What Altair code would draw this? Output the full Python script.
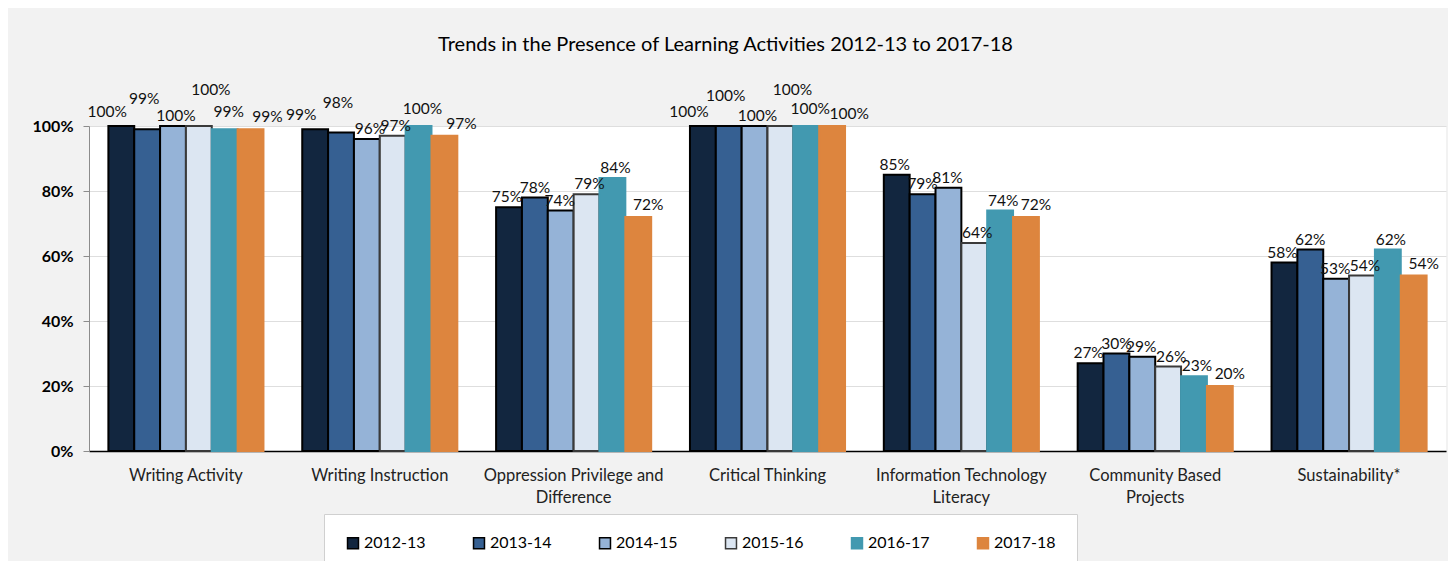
import altair as alt
import pandas as pd

years = ["2012-13", "2013-14", "2014-15", "2015-16", "2016-17", "2017-18"]
categories = [
    "Writing Activity",
    "Writing Instruction",
    "Oppression Privilege and Difference",
    "Critical Thinking",
    "Information Technology Literacy",
    "Community Based Projects",
    "Sustainability*",
]
writing_activity = [100, 99, 100, 100, 99, 99]
writing_instruction = [99, 98, 96, 97, 100, 97]
oppression = [75, 78, 74, 79, 84, 72]
critical_thinking = [100, 100, 100, 100, 100, 100]
info_tech = [85, 79, 81, 64, 74, 72]
community = [27, 30, 29, 26, 23, 20]
sustainability = [58, 62, 53, 54, 62, 54]

series = [writing_activity, writing_instruction, oppression, critical_thinking,
          info_tech, community, sustainability]

fill_colors = ["#12263f", "#366092", "#95b3d7", "#dce6f2", "#4299b0", "#dd853e"]
stroke_colors = ["#000000", "#000000", "#000000", "#3a3a3a", "#4299b0", "#dd853e"]

wrap = {
    "Oppression Privilege and Difference": ["Oppression Privilege and", "Difference"],
    "Information Technology Literacy": ["Information Technology", "Literacy"],
    "Community Based Projects": ["Community Based", "Projects"],
}

rows = []
for cat, vals in zip(categories, series):
    for y, v in zip(years, vals):
        rows.append({"category": cat, "year": y, "value": v / 100})
df = pd.DataFrame(rows)

label_expr = ""
for k, v in wrap.items():
    label_expr += f"datum.label == '{k}' ? ['{v[0]}', '{v[1]}'] : "
label_expr += "datum.label"

FONT = "Lato"
LABEL_SIZE = 15.5

x = alt.X("category:N", sort=categories, title=None,
          scale=alt.Scale(paddingInner=0.2, paddingOuter=0.1),
          axis=alt.Axis(labelAngle=0, labelExpr=label_expr, ticks=False,
                        domainColor="#000000", domainWidth=1.5,
                        labelFontSize=16.5, labelFont=FONT, labelColor="#222222",
                        labelPadding=16, labelLineHeight=22, labelLimit=300))
xo = alt.XOffset("year:N", sort=years, scale=alt.Scale(paddingInner=0, paddingOuter=0))
y = alt.Y("value:Q", title=None,
          scale=alt.Scale(domain=[0, 1], nice=False),
          axis=alt.Axis(values=[0, 0.2, 0.4, 0.6, 0.8, 1.0], format=".0%",
                        labelFontWeight="bold", labelFontSize=16, labelFont=FONT,
                        labelColor="#000000", domainColor="#8c8c8c", tickColor="#8c8c8c",
                        tickSize=6, labelPadding=10, gridColor="#dedede", gridWidth=1))

bars = alt.Chart(df).mark_bar(strokeWidth=2).encode(
    x=x, xOffset=xo, y=y,
    color=alt.Color("year:N", sort=years, title=None,
                    scale=alt.Scale(domain=years, range=fill_colors),
                    legend=alt.Legend(orient="none", direction="horizontal",
                                      legendX=235, legendY=388,
                                      fillColor="#ffffff", strokeColor="#d0d0d0",
                                      padding=21, columnPadding=44,
                                      symbolType="square", symbolSize=120,
                                      symbolStrokeWidth=1.5,
                                      labelFontSize=16, labelFont=FONT,
                                      labelColor="#000000", labelOffset=3)),
    stroke=alt.Stroke("year:N", sort=years, title=None,
                      scale=alt.Scale(domain=years, range=stroke_colors)),
)

base_text = alt.Chart(df).encode(
    x=x, xOffset=xo, y=y,
    text=alt.Text("value:Q", format=".0%"),
)

# label placement styles per series (Excel-like staggering for bars near the top)
# (dx, dy, threshold above which the staggered style applies)
high_style = {
    "2012-13": (-14, -14, 0.95),
    "2013-14": (-3, -30, 0.95),
    "2014-15": (3, -10, 0.95),
    "2015-16": (12, -36, 0.995),
    "2016-17": (4, -17, 0.95),
    "2017-18": (17, -12, 0.95),
}
low_style = {
    "2012-13": (-2, -10),
    "2013-14": (0, -10),
    "2014-15": (-1, -10),
    "2015-16": (3, -10),
    "2016-17": (3, -10),
    "2017-18": (10, -12),
}

layers = [bars]
for yr in years:
    dxh, dyh, thr = high_style[yr]
    layers.append(
        base_text.mark_text(dx=dxh, dy=dyh, fontSize=LABEL_SIZE, font=FONT, color="#111111")
        .transform_filter((alt.datum.year == yr) & (alt.datum.value >= thr))
    )
    dxl, dyl = low_style[yr]
    layers.append(
        base_text.mark_text(dx=dxl, dy=dyl, fontSize=LABEL_SIZE, font=FONT, color="#111111")
        .transform_filter((alt.datum.year == yr) & (alt.datum.value < thr))
    )

chart = alt.layer(*layers).properties(
    width=1357, height=325,
    autosize=alt.AutoSizeParams(type="none"),
    padding={"left": 81, "top": 118, "right": 2, "bottom": 110},
    background="#f2f2f2",
    title=alt.TitleParams(
        "Trends in the Presence of Learning Activities 2012-13 to 2017-18",
        fontSize=20, font=FONT, fontWeight="normal", color="#000000",
        anchor="middle", offset=28, dx=-42),
).configure_view(fill="#ffffff", stroke=None)

chart.save("out.html", embed_options={"renderer": "svg", "actions": False})
